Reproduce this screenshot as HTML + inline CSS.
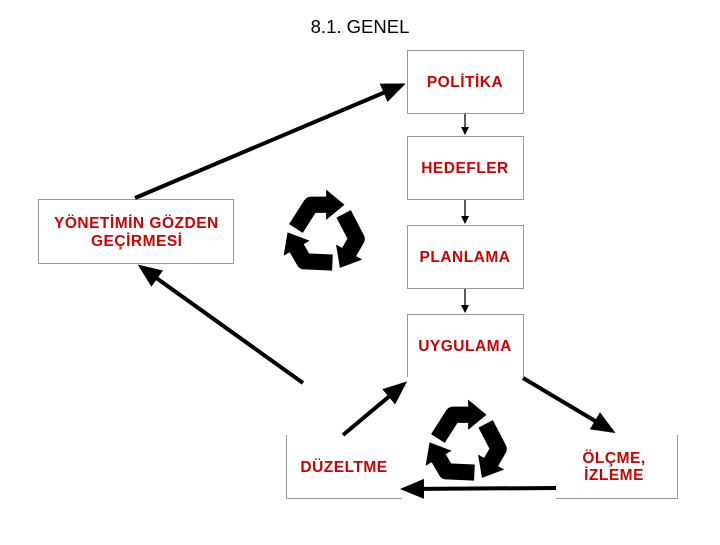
<!DOCTYPE html>
<html><head><meta charset="utf-8"><style>
body{margin:0;width:720px;height:540px;background:#fff;overflow:hidden;font-family:"Liberation Sans",sans-serif}
</style></head><body>
<svg width="720" height="540" viewBox="0 0 720 540" xmlns="http://www.w3.org/2000/svg">
<defs>
<marker id="a" markerWidth="6" markerHeight="5" refX="5" refY="2.5" orient="auto" markerUnits="strokeWidth"><path d="M0,0 L6,2.5 L0,5 z" fill="#000"/></marker>
<marker id="s" markerWidth="8" markerHeight="8" refX="7" refY="4" orient="auto" markerUnits="userSpaceOnUse"><path d="M0,0 L8,4 L0,8 z" fill="#000"/></marker>
<marker id="r" markerWidth="28" markerHeight="28" refX="6" refY="14" orient="auto" markerUnits="userSpaceOnUse"><path d="M0,0 L17,14 L0,28 z" fill="#000"/></marker>
<g id="rc">
 <g id="seg"><path d="M-26,-6 L-12,-28 L8,-28" fill="none" stroke="#000" stroke-width="15" stroke-linejoin="round" marker-end="url(#r)"/></g>
 <use href="#seg" transform="rotate(120)"/>
 <use href="#seg" transform="rotate(240)"/>
</g>
</defs>
<text x="360" y="33" text-anchor="middle" font-size="18.5" font-family="Liberation Sans, sans-serif">8.1. GENEL</text>
<g fill="none" stroke="#999" stroke-width="1">
<rect x="407.5" y="50.5" width="116" height="63"/>
<rect x="407.5" y="136.5" width="116" height="63"/>
<rect x="407.5" y="225.5" width="116" height="63"/>
<path d="M407.5,377 V314.5 H523.5 V377"/>
<rect x="38.5" y="199.5" width="195" height="64"/>
<path d="M286.5,435 V498.5 H402"/>
<path d="M677.5,435 V498.5 H556"/>
</g>
<g fill="#d00000" font-weight="bold" font-size="15.5" letter-spacing="0.5">
<text x="465" y="87" text-anchor="middle">POLİTİKA</text>
<text x="465" y="173" text-anchor="middle">HEDEFLER</text>
<text x="465" y="262" text-anchor="middle">PLANLAMA</text>
<text x="465" y="351" text-anchor="middle">UYGULAMA</text>
<text x="54" y="228">YÖNETİMİN GÖZDEN</text>
<text x="91" y="246">GEÇİRMESİ</text>
<text x="344" y="472" text-anchor="middle">DÜZELTME</text>
<text x="614" y="463" text-anchor="middle">ÖLÇME,</text>
<text x="614" y="480" text-anchor="middle">İZLEME</text>
</g>
<g stroke="#000" stroke-width="1.3">
<line x1="465" y1="114" x2="465" y2="134" marker-end="url(#s)"/>
<line x1="465" y1="200" x2="465" y2="223" marker-end="url(#s)"/>
<line x1="465" y1="289" x2="465" y2="312" marker-end="url(#s)"/>
</g>
<g stroke="#000" stroke-width="4" marker-end="url(#a)">
<line x1="135" y1="198" x2="402" y2="85"/>
<line x1="303" y1="383" x2="141" y2="267"/>
<line x1="343" y1="435" x2="404" y2="384"/>
<line x1="523" y1="378" x2="612" y2="431"/>
<line x1="556" y1="488" x2="404" y2="489"/>
</g>
<use href="#rc" transform="translate(324,235) scale(1.08)"/>
<use href="#rc" transform="translate(466,445) scale(1.08)"/>
</svg>
</body></html>
